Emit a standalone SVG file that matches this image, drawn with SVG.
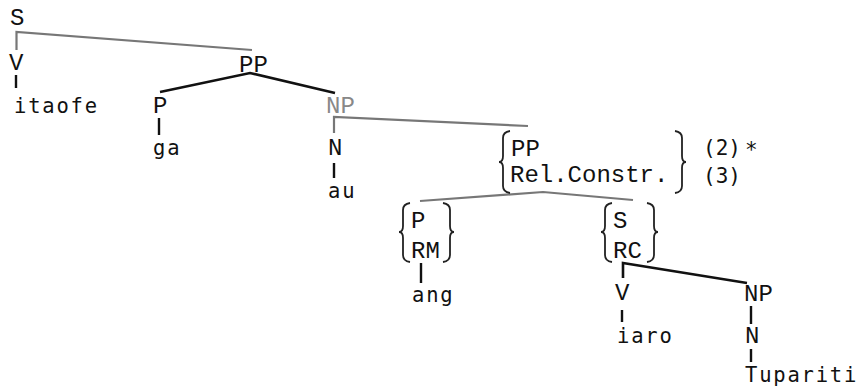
<svg xmlns="http://www.w3.org/2000/svg" width="858" height="386" viewBox="0 0 858 386">
<style>
.cat{font-family:"Courier New","Nimbus Mono PS","FreeMono","Liberation Mono",monospace;font-size:24px;fill:#111}
.gray{fill:#888}
.word{font-family:"DejaVu Sans Mono","DejaVu Sans",monospace;font-size:20.5px;letter-spacing:1.8px;fill:#111}
.num{font-family:"DejaVu Sans Mono","DejaVu Sans",monospace;font-size:21px;fill:#111}
.gl{stroke:#777;stroke-width:2.2;fill:none}
.bl{stroke:#111;stroke-width:2.6;fill:none}
.bar{stroke:#111;stroke-width:2.4;fill:none}
.brace{stroke:#222;stroke-width:1.8;fill:none}
</style>
<rect width="858" height="386" fill="#fff"/>
<g id="connectors">
<path class="gl" d="M16.5,50 L16.5,32 L252,50"/>
<path class="bar" d="M16,75 L16,88"/>
<path class="bl" d="M160,92 L250,73 L335,93"/>
<path class="bar" d="M159,118 L159,135"/>
<path class="gl" d="M334,133 L334,117 L528,126"/>
<path class="bar" d="M334,163 L334,178"/>
<path class="gl" d="M420,201 L543,192 L633,200"/>
<path class="bar" d="M421,263 L421,283"/>
<path class="bl" d="M623,278 L623,263 L747,283"/>
<path class="bar" d="M622,310 L622,322"/>
<path class="bar" d="M751,306 L751,324"/>
<path class="bar" d="M751,349 L751,362"/>
</g>
<g id="node-S"><text class="cat" x="10" y="25">S</text></g>
<g id="node-V1"><text class="cat" x="9" y="70">V</text></g>
<g id="node-itaofe"><text class="word" x="14" y="113">itaofe</text></g>
<g id="node-PP"><text class="cat" x="239" y="72">PP</text></g>
<g id="node-P"><text class="cat" x="153" y="113">P</text></g>
<g id="node-ga"><text class="word" x="153" y="155">ga</text></g>
<g id="node-NP1"><text class="cat gray" x="326" y="113">NP</text></g>
<g id="node-N1"><text class="cat" x="328" y="155">N</text></g>
<g id="node-au"><text class="word" x="328" y="198">au</text></g>
<g id="node-PPRel">
<path class="brace" d="M510,131 Q503,132 503,138 L503,156 Q503,162 499,162 Q503,162 503,168 L503,186 Q503,192 510,193"/>
<text class="cat" x="511" y="156">PP</text>
<text class="cat" x="510" y="182">Rel.Constr.</text>
<path class="brace" d="M675,131 Q682,132 682,138 L682,156 Q682,162 686,162 Q682,162 682,168 L682,186 Q682,192 675,193"/>
<text class="num" x="703" y="155">(2)</text>
<text class="num" x="745" y="157">*</text>
<text class="num" x="703" y="183">(3)</text>
</g>
<g id="node-PRM">
<path class="brace" d="M410,203 Q403,204 403,210 L403,226 Q403,232 399,232 Q403,232 403,238 L403,255 Q403,261 410,262"/>
<text class="cat" x="411" y="228">P</text>
<text class="cat" x="411" y="258">RM</text>
<path class="brace" d="M443,203 Q450,204 450,210 L450,226 Q450,232 454,232 Q450,232 450,238 L450,255 Q450,261 443,262"/>
</g>
<g id="node-ang"><text class="word" x="412" y="302">ang</text></g>
<g id="node-SRC">
<path class="brace" d="M612,203 Q605,204 605,210 L605,226 Q605,232 601,232 Q605,232 605,238 L605,255 Q605,261 612,262"/>
<text class="cat" x="613" y="228">S</text>
<text class="cat" x="613" y="258">RC</text>
<path class="brace" d="M647,203 Q654,204 654,210 L654,226 Q654,232 658,232 Q654,232 654,238 L654,255 Q654,261 647,262"/>
</g>
<g id="node-V2"><text class="cat" x="615" y="300">V</text></g>
<g id="node-iaro"><text class="word" x="617" y="343">iaro</text></g>
<g id="node-NP2"><text class="cat" x="744" y="301">NP</text></g>
<g id="node-N2"><text class="cat" x="745" y="343">N</text></g>
<g id="node-Tupariti"><text class="word" x="745" y="382">Tupariti</text></g>
</svg>
